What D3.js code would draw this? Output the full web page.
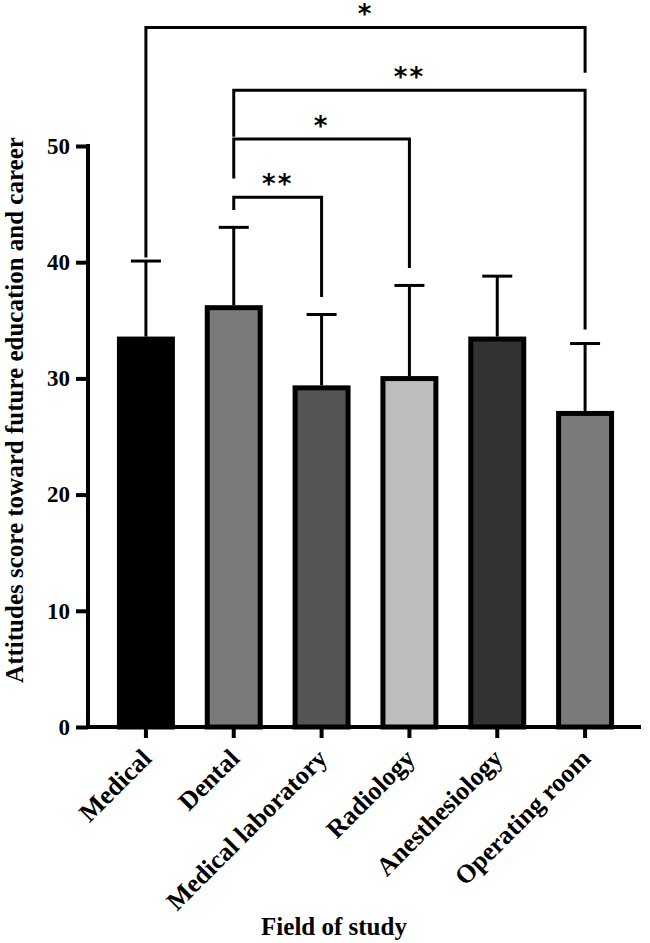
<!DOCTYPE html>
<html lang="en">
<head>
  <meta charset="UTF-8">
  <title>Attitudes score by field of study</title>
  <style>
    body { margin: 0; background: #fff; }
    text { font-family: "Liberation Serif", "DejaVu Serif", serif; font-weight: bold; }
  </style>
</head>
<body>
  <svg id="chart" width="650" height="943"></svg>

  <script src="https://d3js.org/d3.v7.min.js"></script>
  <script>
    // Data
    const fields = ['Medical', 'Dental', 'Medical laboratory', 'Radiology', 'Anesthesiology', 'Operating room'];
    const means = [33.6, 36.3, 29.4, 30.2, 33.6, 27.2];
    const sds = [6.5, 6.7, 6.1, 7.8, 5.2, 5.8];
    const fills = ['#000000', '#7a7a7a', '#555555', '#bdbdbd', '#333333', '#7a7a7a'];
    const yTicks = [0, 10, 20, 30, 40, 50];

    // significance brackets: from, to, label, bracket value, left leg end, right leg end
    const sigFrom = ['Medical', 'Dental', 'Dental', 'Dental'];
    const sigTo = ['Operating room', 'Operating room', 'Radiology', 'Medical laboratory'];
    const sigLabel = ['*', '**', '*', '**'];
    const sigTop = [60.2, 54.8, 50.6, 45.6];
    const sigLeftEnd = [40.4, 50.8, 47.2, 44.5];
    const sigRightEnd = [56.3, 34.2, 39.5, 37.0];

    const svg = d3.select('#chart');

    const y = d3.scaleLinear().domain([0, 50]).range([727, 146]);
    const x = d3.scaleBand().domain(fields).range([102, 629]).paddingInner(0.34).paddingOuter(0.17);

    // bars
    svg.selectAll('.bar')
      .data(fields)
      .enter().append('rect')
      .attr('class', 'bar')
      .attr('x', d => x(d) + 2.5)
      .attr('width', x.bandwidth() - 5)
      .attr('y', (d, i) => y(means[i]) + 2.5)
      .attr('height', (d, i) => y(0) - y(means[i]) - 2.5)
      .attr('fill', (d, i) => fills[i])
      .attr('stroke', '#000')
      .attr('stroke-width', 5);

    // error bars (upper only)
    const cx = d => x(d) + x.bandwidth() / 2;
    const err = svg.append('g').attr('stroke', '#000').attr('stroke-width', 3);
    fields.forEach((f, i) => {
      err.append('line')
        .attr('x1', cx(f)).attr('x2', cx(f))
        .attr('y1', y(means[i])).attr('y2', y(means[i] + sds[i]));
      err.append('line')
        .attr('x1', cx(f) - 15).attr('x2', cx(f) + 15)
        .attr('y1', y(means[i] + sds[i])).attr('y2', y(means[i] + sds[i]));
    });

    // y axis
    const yAxis = svg.append('g')
      .attr('transform', 'translate(88,0)')
      .call(d3.axisLeft(y).tickValues(yTicks).tickSize(12).tickPadding(6));
    yAxis.select('.domain').attr('stroke-width', 4).attr('d', `M0,${y(50) - 2}V${y(0) + 2}`);
    yAxis.selectAll('.tick line').attr('stroke-width', 4);
    yAxis.selectAll('.tick text').attr('font-size', 23).attr('fill', '#000')
      .style('font-family', '"Liberation Serif", serif').style('font-weight', 'bold');

    // x axis
    const xAxis = svg.append('g')
      .attr('transform', `translate(0,${y(0)})`)
      .call(d3.axisBottom(x).tickSize(11).tickSizeOuter(0));
    xAxis.select('.domain').attr('stroke-width', 4).attr('d', 'M86,0H641');
    xAxis.selectAll('.tick line').attr('stroke-width', 4);
    xAxis.selectAll('.tick text')
      .attr('font-size', 26).attr('fill', '#000')
      .style('font-family', '"Liberation Serif", serif').style('font-weight', 'bold')
      .attr('text-anchor', 'end')
      .attr('x', 0).attr('y', 0).attr('dy', 0)
      .attr('transform', 'translate(7,33) rotate(-45)');

    // axis titles
    svg.append('text')
      .attr('transform', 'translate(23,410) rotate(-90)')
      .attr('text-anchor', 'middle')
      .attr('font-size', 25)
      .text('Attitudes score toward future education and career');

    svg.append('text')
      .attr('x', 334).attr('y', 935)
      .attr('text-anchor', 'middle')
      .attr('font-size', 25)
      .text('Field of study');

    // significance brackets
    const br = svg.append('g');
    sigFrom.forEach((f, i) => {
      const x1 = cx(f), x2 = cx(sigTo[i]);
      br.append('path')
        .attr('d', `M${x1},${y(sigLeftEnd[i])}V${y(sigTop[i])}H${x2}V${y(sigRightEnd[i])}`)
        .attr('fill', 'none').attr('stroke', '#000').attr('stroke-width', 3);
    });
    svg.selectAll('.sig')
      .data(sigLabel)
      .enter().append('text')
      .attr('class', 'sig')
      .attr('x', (d, i) => (cx(sigFrom[i]) + cx(sigTo[i])) / 2)
      .attr('y', (d, i) => y(sigTop[i]) - 4)
      .attr('text-anchor', 'middle')
      .attr('font-size', 26)
      .attr('letter-spacing', 2)
      .style('font-family', '"DejaVu Sans", sans-serif')
      .text(d => d);
  </script>
</body>
</html>
